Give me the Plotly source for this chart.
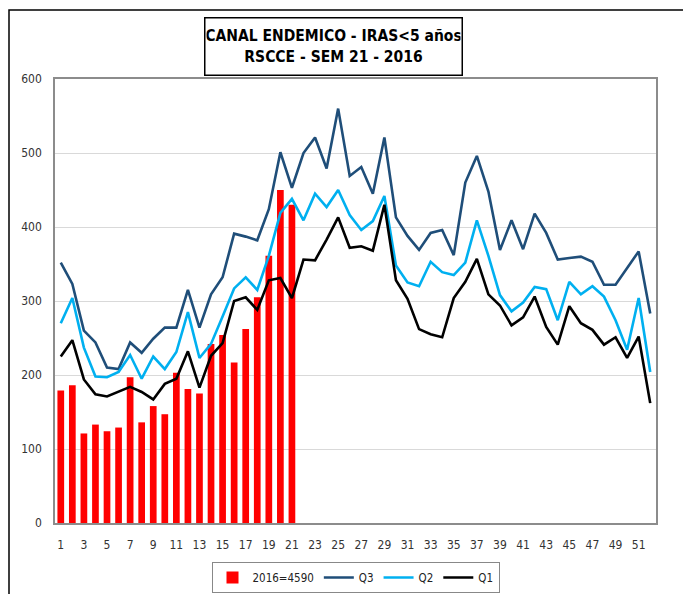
import plotly.graph_objects as go

weeks = list(range(1, 53))
cases_2016 = [179, 186, 121, 133, 124, 129, 197, 136, 158, 147, 203, 181, 175, 242, 254,
              217, 262, 305, 361, 450, 430]
q3 = [352, 323, 260, 244, 210, 208, 244, 230, 249, 264, 264, 315, 264, 309, 332,
      391, 387, 382, 424, 501, 453, 500, 521, 479, 560, 469, 481, 445, 521, 413,
      388, 369, 392, 396, 362, 460, 496, 448, 369, 409, 370, 418, 392, 356, 358,
      360, 353, 322, 322, 345, 367, 283]
q2 = [270, 304, 237, 198, 197, 204, 227, 195, 225, 208, 231, 285, 223, 242, 279,
      317, 332, 315, 361, 419, 438, 409, 445, 427, 450, 416, 396, 408, 442, 348,
      325, 320, 353, 339, 335, 352, 409, 361, 308, 286, 298, 319, 316, 274, 326,
      309, 320, 306, 274, 234, 304, 204]
q1 = [225, 247, 194, 174, 171, 177, 184, 177, 167, 188, 195, 232, 183, 226, 243,
      300, 305, 288, 328, 331, 304, 356, 355, 383, 413, 372, 374, 368, 430, 328,
      303, 262, 255, 251, 304, 326, 357, 309, 294, 267, 278, 306, 265, 241, 293,
      270, 261, 241, 251, 223, 252, 162]
x_ticks = list(range(1, 52, 2))
y_ticks = [0, 100, 200, 300, 400, 500, 600]

label_font = "DejaVu Sans Condensed, Liberation Sans Narrow, sans-serif"

# page body has an 8px margin: figure is sized so the plot lands where the reference has it
W, H = 683, 586
ML, MR, MT, MB = 47, 35, 71, 71
PW, PH = W - ML - MR, H - MT - MB

fig = go.Figure()
fig.add_trace(go.Bar(x=weeks[:len(cases_2016)], y=cases_2016, name="2016=4590",
                     marker=dict(color="#FF0000", line=dict(width=0))))
fig.add_trace(go.Scatter(x=weeks, y=q3, mode="lines", name="Q3",
                         line=dict(color="#1F4E79", width=2.6)))
fig.add_trace(go.Scatter(x=weeks, y=q2, mode="lines", name="Q2",
                         line=dict(color="#00B0F0", width=2.6)))
fig.add_trace(go.Scatter(x=weeks, y=q1, mode="lines", name="Q1",
                         line=dict(color="#000000", width=2.6)))

fig.update_layout(
    width=W, height=H,
    margin=dict(l=ML, r=MR, t=MT, b=MB, autoexpand=False),
    paper_bgcolor="white", plot_bgcolor="white",
    bargap=0.42,
    showlegend=True,
    legend=dict(orientation="h", x=0.5, xanchor="center",
                y=-(MB - 1) / PH, yanchor="bottom",
                bordercolor="#888888", borderwidth=1,
                font=dict(family=label_font, size=11.5, color="#222222"),
                itemwidth=30, tracegroupgap=0),
    font=dict(family=label_font, size=12, color="#333333"),
    annotations=[dict(
        text="<b>CANAL ENDEMICO - IRAS<5 años<br>RSCCE - SEM 21 - 2016</b>",
        xref="paper", yref="paper", x=(325.5 - ML) / PW, y=(MT + PH - 38.5) / PH,
        xanchor="center", yanchor="middle",
        showarrow=False, align="center", width=254, height=54,
        font=dict(family="DejaVu Sans Condensed, Liberation Sans Narrow, sans-serif",
                  size=15.5, color="#000000"),
        bordercolor="#000000", borderwidth=1.5, borderpad=1, bgcolor="white")],
    shapes=[dict(type="rect", xref="paper", yref="paper",
                 x0=(1 - ML) / PW, x1=(W + 20 - ML) / PW,
                 y0=-(MB + 30) / PH, y1=(MT + PH - 2) / PH,
                 line=dict(color="#000000", width=1.5), layer="below")],
)
fig.update_xaxes(range=[0.5, 52.5], tickmode="array", tickvals=x_ticks,
                 ticktext=[str(v) for v in x_ticks], showgrid=False,
                 showline=True, mirror=True, linecolor="#8C8C8C", linewidth=1.5,
                 ticks="", ticklabelstandoff=10, automargin=False,
                 tickfont=dict(family=label_font, size=12, color="#333333"))
fig.update_yaxes(range=[0, 600], tickmode="array", tickvals=y_ticks,
                 showgrid=True, gridcolor="#D9D9D9", gridwidth=1,
                 showline=True, mirror=True, linecolor="#8C8C8C", linewidth=1.5,
                 ticks="", ticklabelstandoff=9, zeroline=False, automargin=False,
                 tickfont=dict(family=label_font, size=12, color="#333333"))

fig.write_html("out.html")
